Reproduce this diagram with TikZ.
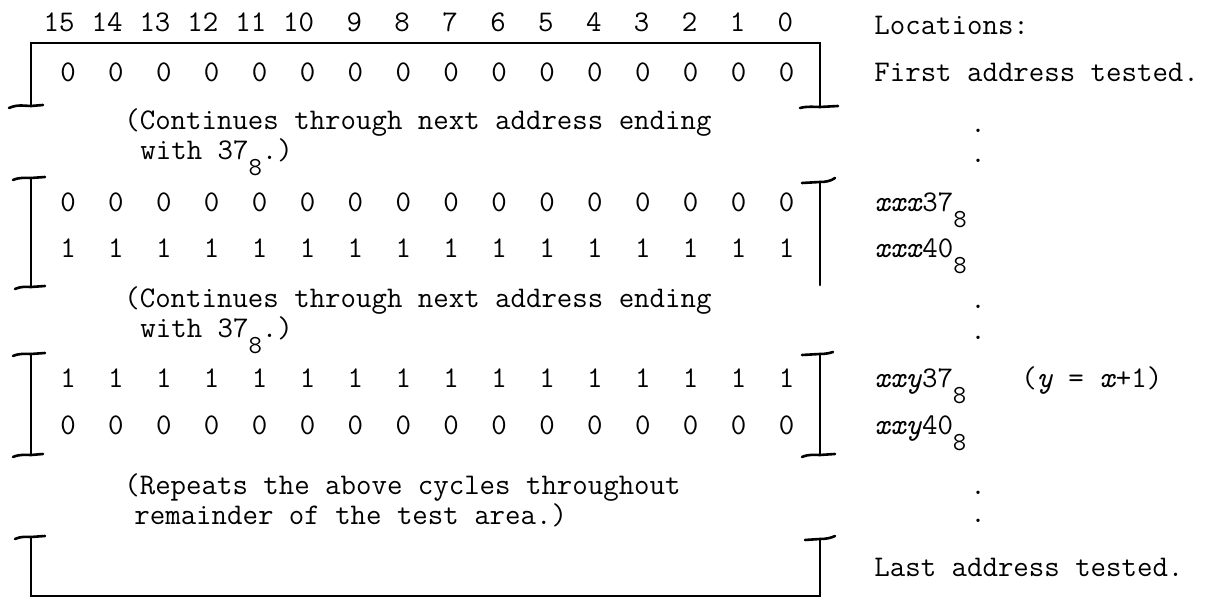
\documentclass[tikz,border=0pt]{standalone}
\usepackage{tikz}
\usetikzlibrary{positioning}
\newcommand{\eightsub}[1]{#1\raisebox{-8pt}{\fontsize{13}{13}\selectfont 8}}
\tikzset{
every node/.style={font=\fontsize{15}{18}\selectfont\ttfamily, inner sep=0pt}, % typewriter text everywhere
bit/.style={anchor=base}, % one bit of a word
loc/.style={anchor=base west}, % text in the locations column
note/.style={anchor=base west}, % remarks between the words
gap/.style={anchor=base}, % dots for skipped locations
brk/.style={line width=1.3pt, line cap=round}, % bracket strokes
}
\begin{document}
\begin{tikzpicture}[x=0.5pt, y=-0.5pt]
    \useasboundingbox (0,0) rectangle (1207,597);
    % bit numbers and the words
    \foreach \b in {0,...,15} {
        \node[anchor=base east] (hdr\b) at ({75+(15-\b)*47.9},32) {\b};
        \node[bit] (first\b) at ({68+(15-\b)*47.9},82) {0};
        \node[bit] (lowA\b) at ({68+(15-\b)*47.9},212) {0};
        \node[bit] (highA\b) at ({68+(15-\b)*47.9},258) {1};
        \node[bit] (highB\b) at ({68+(15-\b)*47.9},388) {1};
        \node[bit] (lowB\b) at ({68+(15-\b)*47.9},435) {0};
    }
    % remarks
    \node[note] (contA) at (124,130) {(Continues through next address ending};
    \node[note] (withA) at (140,160) {with \eightsub{37}.)};
    \node[note] (contB) at (124,308) {(Continues through next address ending};
    \node[note] (withB) at (140,338) {with \eightsub{37}.)};
    \node[note] (rep) at (124,495) {(Repeats the above cycles throughout};
    \node[note] (rest) at (134,525) {remainder of the test area.)};
    % locations column
    \node[loc] (loc) at (874,35) {Locations:};
    \node[loc] (firstloc) at (874,82) {First address tested.};
    \node[gap] (dotA) at (978,133) {.};
    \node[gap] (dotB) at (978,163) {.};
    \node[loc] (xxxa) at (874,212) {\eightsub{\textit{xxx}37}};
    \node[loc] (xxxb) at (874,258) {\eightsub{\textit{xxx}40}};
    \node[gap] (dotC) at (978,309) {.};
    \node[gap] (dotD) at (978,340) {.};
    \node[loc] (xxya) at (874,388) {\eightsub{\textit{xxy}37}};
    \node[loc] (rel) at (1021,388) {(\textit{y} = \textit{x}+1)};
    \node[loc] (xxyb) at (874,435) {\eightsub{\textit{xxy}40}};
    \node[gap] (dotE) at (978,495) {.};
    \node[gap] (dotF) at (978,523) {.};
    \node[loc] (lastloc) at (874,577) {Last address tested.};
    % brackets
    \draw[brk] (9,108) .. controls (18,104) and (25,106) .. (31,106) -- (43,105);
    \draw[brk] (31,106) -- (31,43) -- (820,43) -- (820,107);
    \draw[brk] (800,108) .. controls (808,106) and (814,107) .. (820,107) -- (838,106);
    \draw[brk] (13,180) .. controls (20,177) and (26,178) .. (31,178) -- (45,177);
    \draw[brk] (31,178) -- (31,287);
    \draw[brk] (15,289) .. controls (22,286) and (26,287) .. (31,287) -- (45,286);
    \draw[brk] (802,183) -- (820,182) .. controls (826,182) and (831,181) .. (835,178);
    \draw[brk] (820,182) -- (820,285);
    \draw[brk] (13,356) .. controls (20,353) and (26,354) .. (31,354) -- (45,353);
    \draw[brk] (31,354) -- (31,455);
    \draw[brk] (13,457) .. controls (20,454) and (26,455) .. (31,455) -- (43,454);
    \draw[brk] (802,355) -- (820,354) .. controls (826,354) and (830,353) .. (833,352);
    \draw[brk] (820,354) -- (820,455);
    \draw[brk] (802,457) .. controls (809,454) and (814,455) .. (820,455) -- (835,454);
    \draw[brk] (15,539) .. controls (22,536) and (26,537) .. (31,537) -- (45,536);
    \draw[brk] (31,537) -- (31,596) -- (820,596) -- (820,539);
    \draw[brk] (805,540) -- (820,539) .. controls (826,539) and (831,538) .. (835,536);
\end{tikzpicture}
\end{document}
